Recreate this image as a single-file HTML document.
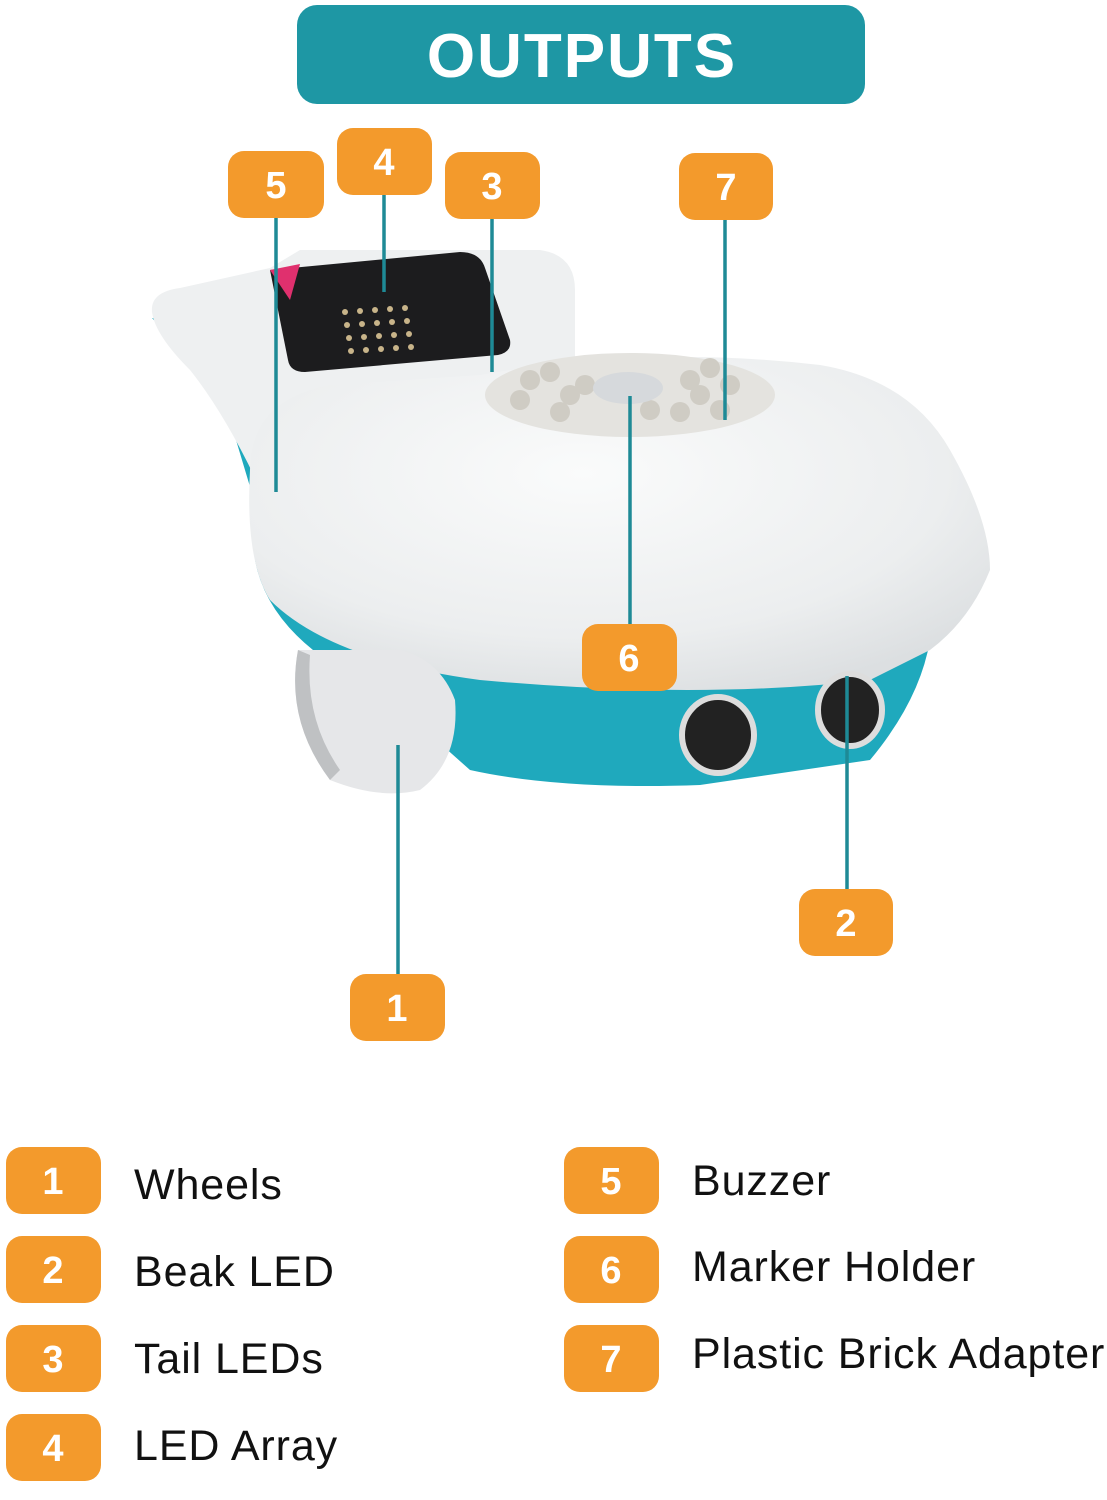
<!DOCTYPE html>
<html><head><meta charset="utf-8"><style>
body{margin:0;width:1107px;height:1500px;background:#fff;overflow:hidden;font-family:"Liberation Sans",sans-serif}
svg{position:absolute;left:0;top:0}
</style></head><body>
<svg width="1107" height="1500" viewBox="0 0 1107 1500">
<defs>
<radialGradient id="wg" cx="0.45" cy="0.35" r="0.7"><stop offset="0" stop-color="#fafbfb"/><stop offset="0.7" stop-color="#eceeef"/><stop offset="1" stop-color="#dcdfe1"/></radialGradient>
</defs>
<rect x="297" y="5" width="568" height="99" rx="20" fill="#1e97a4"/>
<text x="582" y="77" text-anchor="middle" font-size="62" font-weight="bold" letter-spacing="2" fill="#fff" font-family="Liberation Sans, sans-serif">OUTPUTS</text>
<!-- teal base -->
<path d="M255 560 Q270 640 380 690 L470 770 Q560 790 700 785 L870 760 Q920 700 930 640 L960 600 Q900 640 700 650 Q450 650 255 560Z" fill="#1fa9bd"/>
<path d="M152 318 Q200 370 230 420 L260 520 L265 500 Q240 420 160 320Z" fill="#1fa9bd"/>
<path d="M152 312 Q150 292 180 288 L270 268 L300 250 L540 250 Q575 255 575 290 L575 360 L480 400 L300 400 L285 460 L270 510 Q230 420 190 370 Q155 335 152 312Z" fill="#eef0f1"/>
<path d="M270 270 L460 252 Q480 252 485 268 L510 340 Q512 352 498 355 L305 372 Q290 372 288 360Z" fill="#1c1c1e"/>
<path d="M270 270 L300 264 L290 300Z" fill="#e0306e"/>
<g fill="#c8b48a">
<circle cx="345" cy="312" r="3"/><circle cx="360" cy="311" r="3"/><circle cx="375" cy="310" r="3"/><circle cx="390" cy="309" r="3"/><circle cx="405" cy="308" r="3"/>
<circle cx="347" cy="325" r="3"/><circle cx="362" cy="324" r="3"/><circle cx="377" cy="323" r="3"/><circle cx="392" cy="322" r="3"/><circle cx="407" cy="321" r="3"/>
<circle cx="349" cy="338" r="3"/><circle cx="364" cy="337" r="3"/><circle cx="379" cy="336" r="3"/><circle cx="394" cy="335" r="3"/><circle cx="409" cy="334" r="3"/>
<circle cx="351" cy="351" r="3"/><circle cx="366" cy="350" r="3"/><circle cx="381" cy="349" r="3"/><circle cx="396" cy="348" r="3"/><circle cx="411" cy="347" r="3"/>
</g>
<path d="M250 470 Q250 400 330 385 L480 375 Q650 345 820 365 Q910 380 950 450 Q990 520 990 570 Q970 620 930 650 L870 680 Q700 700 480 680 Q330 660 270 600 Q245 560 250 470Z" fill="url(#wg)"/>
<ellipse cx="630" cy="395" rx="145" ry="42" fill="#e4e3df"/>
<g fill="#cfccc4">
<circle cx="520" cy="400" r="10"/><circle cx="550" cy="372" r="10"/><circle cx="570" cy="395" r="10"/><circle cx="560" cy="412" r="10"/><circle cx="585" cy="385" r="10"/>
<circle cx="690" cy="380" r="10"/><circle cx="710" cy="368" r="10"/><circle cx="700" cy="395" r="10"/><circle cx="730" cy="385" r="10"/><circle cx="720" cy="410" r="10"/><circle cx="680" cy="412" r="10"/><circle cx="650" cy="410" r="10"/><circle cx="530" cy="380" r="10"/>
</g>
<ellipse cx="628" cy="388" rx="35" ry="16" fill="#d6d9dc"/>
<path d="M298 650 Q285 720 330 780 Q380 800 420 790 Q460 760 455 700 Q440 660 400 650 Z" fill="#e6e7e9"/>
<path d="M298 650 Q285 720 330 780 L340 770 Q305 720 310 655Z" fill="#bfc1c3"/>
<ellipse cx="718" cy="735" rx="36" ry="38" fill="#222" stroke="#ddd" stroke-width="6"/>
<ellipse cx="850" cy="710" rx="32" ry="36" fill="#222" stroke="#ddd" stroke-width="6"/>
<g stroke="#1e8a96" stroke-width="3.5">
<line x1="276" y1="218" x2="276" y2="492"/>
<line x1="384" y1="195" x2="384" y2="292"/>
<line x1="492" y1="219" x2="492" y2="372"/>
<line x1="725" y1="220" x2="725" y2="420"/>
<line x1="630" y1="396" x2="630" y2="624"/>
<line x1="847" y1="676" x2="847" y2="889"/>
<line x1="398" y1="745" x2="398" y2="974"/>
</g>
<g fill="#f39a2c">
<rect x="228" y="151" width="96" height="67" rx="16"/>
<rect x="337" y="128" width="95" height="67" rx="16"/>
<rect x="445" y="152" width="95" height="67" rx="16"/>
<rect x="679" y="153" width="94" height="67" rx="16"/>
<rect x="582" y="624" width="95" height="67" rx="16"/>
<rect x="799" y="889" width="94" height="67" rx="16"/>
<rect x="350" y="974" width="95" height="67" rx="16"/>
<rect x="6" y="1147" width="95" height="67" rx="16"/>
<rect x="6" y="1236" width="95" height="67" rx="16"/>
<rect x="6" y="1325" width="95" height="67" rx="16"/>
<rect x="6" y="1414" width="95" height="67" rx="16"/>
<rect x="564" y="1147" width="95" height="67" rx="16"/>
<rect x="564" y="1236" width="95" height="67" rx="16"/>
<rect x="564" y="1325" width="95" height="67" rx="16"/>
</g>
<g fill="#fff" font-size="38" font-weight="bold" text-anchor="middle" font-family="Liberation Sans, sans-serif">
<text x="276" y="198">5</text><text x="384" y="175">4</text><text x="492" y="199">3</text><text x="726" y="200">7</text>
<text x="629" y="671">6</text><text x="846" y="936">2</text><text x="397" y="1021">1</text>
<text x="53" y="1194">1</text><text x="53" y="1283">2</text><text x="53" y="1372">3</text><text x="53" y="1461">4</text>
<text x="611" y="1194">5</text><text x="611" y="1283">6</text><text x="611" y="1372">7</text>
</g>
<g fill="#111" font-size="43" letter-spacing="0.9" font-family="Liberation Sans, sans-serif">
<text x="134" y="1199">Wheels</text><text x="134" y="1286">Beak LED</text><text x="134" y="1373">Tail LEDs</text><text x="134" y="1460">LED Array</text>
<text x="692" y="1195">Buzzer</text><text x="692" y="1281">Marker Holder</text><text x="692" y="1368">Plastic Brick Adapter</text>
</g>
</svg>
</body></html>
